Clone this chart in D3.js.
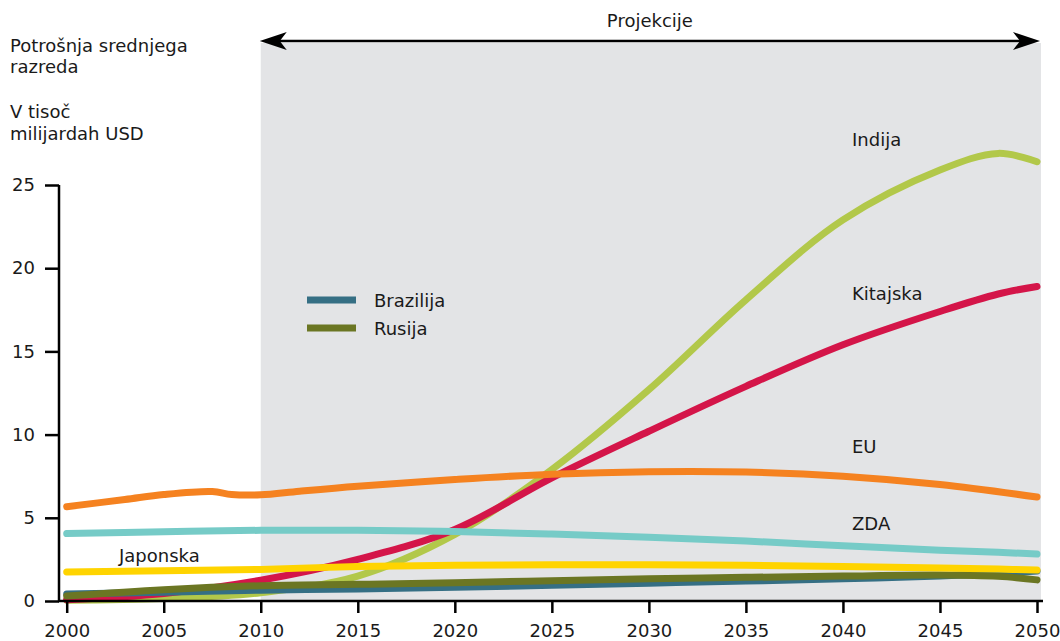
<!DOCTYPE html>
<html>
<head>
<meta charset="utf-8">
<script src="https://cdn.jsdelivr.net/npm/d3@7"></script>
<style>
  html, body { margin: 0; padding: 0; background: #fff; }
  svg { display: block; font-family: "DejaVu Sans", Verdana, sans-serif; }
</style>
</head>
<body>
<svg id="chart" width="1060" height="641"></svg>
<script>
// Middle-class consumption, thousand billion USD
const years = [2000, 2005, 2010, 2015, 2020, 2025, 2030, 2035, 2040, 2045, 2048, 2050];
const india  = [0.05, 0.15, 0.5, 1.5, 4.0, 7.9, 12.7, 18.1, 22.9, 25.9, 26.9, 26.4];
const china  = [0.08, 0.45, 1.25, 2.5, 4.3, 7.4, 10.2, 12.9, 15.4, 17.4, 18.45, 18.9];
const usa    = [4.05, 4.16, 4.25, 4.25, 4.17, 4.02, 3.83, 3.6, 3.32, 3.05, 2.93, 2.82];
const japan  = [1.75, 1.82, 1.9, 2.08, 2.15, 2.18, 2.18, 2.15, 2.08, 1.98, 1.92, 1.86];
const brazil = [0.42, 0.52, 0.65, 0.72, 0.82, 0.95, 1.07, 1.2, 1.33, 1.5, 1.65, 1.8];
const russia = [0.3, 0.68, 0.92, 1.0, 1.1, 1.22, 1.33, 1.42, 1.5, 1.56, 1.48, 1.27];
const euYears = [2000, 2003, 2005, 2007.5, 2008.5, 2010, 2012, 2015, 2020, 2025, 2030, 2035, 2040, 2045, 2050];
const eu      = [5.67, 6.1, 6.4, 6.58, 6.4, 6.38, 6.6, 6.9, 7.3, 7.62, 7.77, 7.75, 7.5, 7.0, 6.25];

const xTicks = [2000, 2005, 2010, 2015, 2020, 2025, 2030, 2035, 2040, 2045, 2050];
const yTicks = [0, 5, 10, 15, 20, 25];
const projectionStart = 2010;

const series = [
  { name: "Indija",   xs: years,   ys: india,  color: "#b2c84a" },
  { name: "Kitajska", xs: years,   ys: china,  color: "#d41549" },
  { name: "EU",       xs: euYears, ys: eu,     color: "#f58220" },
  { name: "ZDA",      xs: years,   ys: usa,    color: "#76cbc7" },
  { name: "Brazilija",xs: years,   ys: brazil, color: "#356f84" },
  { name: "Rusija",   xs: years,   ys: russia, color: "#6b7623" },
  { name: "Japonska", xs: years,   ys: japan,  color: "#ffd400" }
];

const svg = d3.select("#chart");
const x = d3.scaleLinear().domain([2000, 2050]).range([66.7, 1037]);
const y = d3.scaleLinear().domain([0, 25]).range([601, 185]);

// projection period background
svg.append("rect")
  .attr("x", x(projectionStart)).attr("y", 43)
  .attr("width", 1041 - x(projectionStart)).attr("height", y(0) - 43)
  .attr("fill", "#e3e4e6");

// double-headed arrow above the projection period
const ay = 41, left = x(projectionStart) - 1, right = 1040;
svg.append("line")
  .attr("x1", left + 10).attr("x2", right - 10).attr("y1", ay).attr("y2", ay)
  .attr("stroke", "#000").attr("stroke-width", 2.5);
svg.append("path")
  .attr("d", `M${left},${ay} L${left + 27},${ay - 9} L${left + 20},${ay} L${left + 27},${ay + 9} Z`)
  .attr("fill", "#000");
svg.append("path")
  .attr("d", `M${right},${ay} L${right - 27},${ay - 9} L${right - 20},${ay} L${right - 27},${ay + 9} Z`)
  .attr("fill", "#000");
svg.append("text")
  .attr("x", (left + right) / 2).attr("y", 27)
  .attr("text-anchor", "middle").attr("font-size", 18).attr("fill", "#1a1a1a")
  .text("Projekcije");

// unit titles
const titleLines = [
  { t: "Potrošnja srednjega", y: 51.7 },
  { t: "razreda", y: 73.3 },
  { t: "V tisoč", y: 118.3 },
  { t: "milijardah USD", y: 140 }
];
svg.selectAll(".title").data(titleLines).enter().append("text")
  .attr("x", 10).attr("y", d => d.y)
  .attr("font-size", 18).attr("fill", "#1a1a1a")
  .text(d => d.t);

// lines
const line = d3.line()
  .x(d => x(d[0])).y(d => y(d[1]))
  .curve(d3.curveCatmullRom.alpha(0.5));
series.forEach(s => {
  svg.append("path")
    .datum(s.xs.map((yr, i) => [yr, s.ys[i]]))
    .attr("d", line)
    .attr("fill", "none")
    .attr("stroke", s.color)
    .attr("stroke-width", 7)
    .attr("stroke-linecap", "round")
    .attr("stroke-linejoin", "round");
});

// axes
const yAxis = d3.axisLeft(y).tickValues(yTicks).tickSize(14).tickPadding(10).tickSizeOuter(0);
const gy = svg.append("g").attr("transform", "translate(59,0)").call(yAxis);
gy.select(".domain").attr("stroke", "#000").attr("stroke-width", 2.5)
  .attr("d", `M0,${y(25)}V${y(0)}`);
gy.selectAll(".tick line").attr("stroke", "#000").attr("stroke-width", 2.5);
gy.selectAll(".tick text").attr("font-size", 18).attr("fill", "#1a1a1a")
  .attr("font-family", "DejaVu Sans, Verdana, sans-serif");

const xAxis = d3.axisBottom(x).tickValues(xTicks).tickFormat(d3.format("d"))
  .tickSize(12).tickPadding(11).tickSizeOuter(0);
const gx = svg.append("g").attr("transform", `translate(0,${y(0)})`).call(xAxis);
gx.select(".domain").attr("stroke", "#000").attr("stroke-width", 2.5)
  .attr("d", "M58,0H1043");
gx.selectAll(".tick line").attr("stroke", "#000").attr("stroke-width", 2.5);
gx.selectAll(".tick text").attr("font-size", 18).attr("fill", "#1a1a1a")
  .attr("font-family", "DejaVu Sans, Verdana, sans-serif");

// series labels
const labels = [
  { t: "Indija",   x: 852, y: 146 },
  { t: "Kitajska", x: 852, y: 300 },
  { t: "EU",       x: 852, y: 452.7 },
  { t: "ZDA",      x: 852, y: 530 },
  { t: "Japonska", x: 119, y: 561.7 }
];
svg.selectAll(".lbl").data(labels).enter().append("text")
  .attr("x", d => d.x).attr("y", d => d.y)
  .attr("font-size", 18).attr("fill", "#1a1a1a")
  .text(d => d.t);

// legend
const legendItems = series.filter(s => s.name === "Brazilija" || s.name === "Rusija");
const lg = svg.append("g").attr("transform", "translate(307,300)");
legendItems.forEach((s, i) => {
  lg.append("rect").attr("x", 0).attr("y", i * 28 - 3.5)
    .attr("width", 49).attr("height", 7).attr("fill", s.color);
  lg.append("text").attr("x", 67).attr("y", i * 28 + 6.5)
    .attr("font-size", 18).attr("fill", "#1a1a1a").text(s.name);
});
</script>
</body>
</html>
